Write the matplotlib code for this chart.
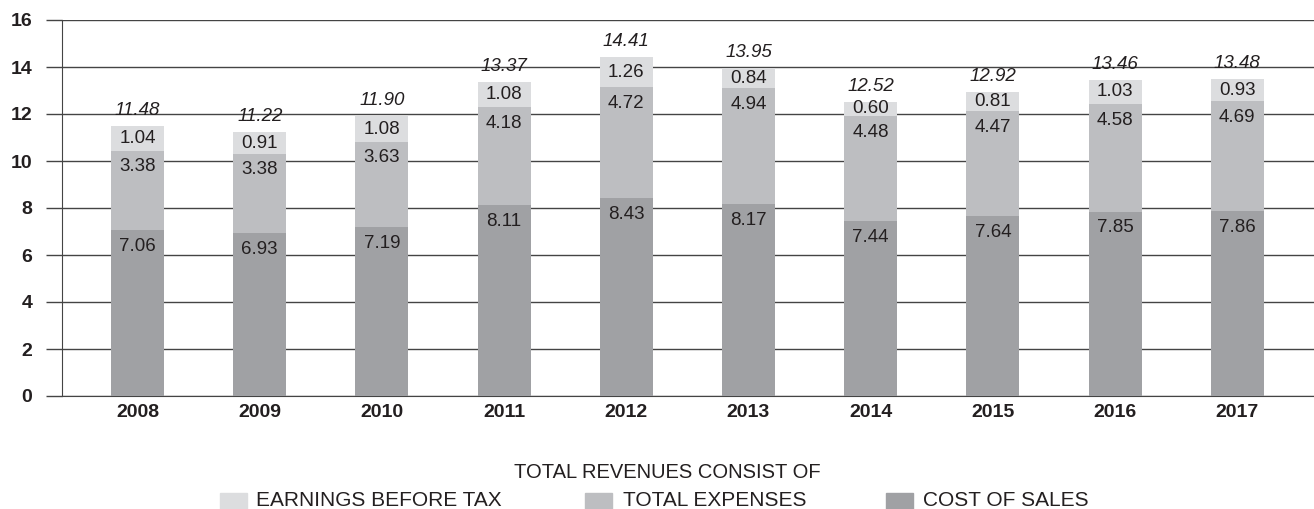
import matplotlib
matplotlib.use("Agg")
import matplotlib.pyplot as plt
from matplotlib.patches import Rectangle

plt.rcParams['font.family'] = ['Liberation Sans', 'DejaVu Sans']

years = ['2008', '2009', '2010', '2011', '2012', '2013', '2014', '2015', '2016', '2017']
cost_of_sales = [7.06, 6.93, 7.19, 8.11, 8.43, 8.17, 7.44, 7.64, 7.85, 7.86]
total_expenses = [3.38, 3.38, 3.63, 4.18, 4.72, 4.94, 4.48, 4.47, 4.58, 4.69]
earnings = [1.04, 0.91, 1.08, 1.08, 1.26, 0.84, 0.60, 0.81, 1.03, 0.93]
totals = [11.48, 11.22, 11.90, 13.37, 14.41, 13.95, 12.52, 12.92, 13.46, 13.48]
series_names = ['EARNINGS BEFORE TAX', 'TOTAL EXPENSES', 'COST OF SALES']
legend_title = 'TOTAL REVENUES CONSIST OF'

c_cost = '#a0a1a4'
c_exp = '#bdbec1'
c_earn = '#dcdddf'
txt = '#231f20'
grid_c = '#444444'

W, H = 1314, 509
fig = plt.figure(figsize=(W / 100, H / 100), dpi=100)
ax = fig.add_axes([62 / W, 1 - 396 / H, 1 - 62 / W, (396 - 20) / H])

x = list(range(len(years)))
w = 0.434
ax.bar(x, cost_of_sales, width=w, color=c_cost, zorder=3)
ax.bar(x, total_expenses, width=w, bottom=cost_of_sales, color=c_exp, zorder=3)
bottom3 = [a + b for a, b in zip(cost_of_sales, total_expenses)]
ax.bar(x, earnings, width=w, bottom=bottom3, color=c_earn, zorder=3)

for i in x:
    ax.text(i, cost_of_sales[i] - 0.33, f'{cost_of_sales[i]:.2f}', ha='center', va='top',
            fontsize=13.5, color=txt, zorder=4)
    ax.text(i, bottom3[i] - 0.33, f'{total_expenses[i]:.2f}', ha='center', va='top',
            fontsize=13.5, color=txt, zorder=4)
    ax.text(i, bottom3[i] + earnings[i] / 2, f'{earnings[i]:.2f}', ha='center', va='center',
            fontsize=13.5, color=txt, zorder=4)
    ax.text(i, totals[i] + 0.3, f'{totals[i]:.2f}', ha='center', va='bottom',
            fontsize=13.5, color=txt, style='italic', zorder=4)

ax.set_xlim(-0.618, 9.628)
ax.set_ylim(0, 16)
ax.set_yticks(range(0, 17, 2))
ax.set_xticks(x)
ax.set_xticklabels(years)
ax.yaxis.grid(True, color=grid_c, linewidth=1.0, zorder=0)
ax.set_axisbelow(True)
for s in ['top', 'right']:
    ax.spines[s].set_visible(False)
ax.spines['left'].set_color(grid_c)
ax.spines['bottom'].set_color(grid_c)
ax.tick_params(axis='y', length=11.5, width=1.0, color=grid_c, pad=10, labelsize=14)
ax.tick_params(axis='x', length=0, pad=6, labelsize=14)
for lab in ax.get_xticklabels() + ax.get_yticklabels():
    lab.set_fontweight('bold')
    lab.set_color(txt)

# legend (title + manual entries)
fig.text(667.5 / W, 1 - 472 / H, legend_title, ha='center', va='center',
         fontsize=14.5, color=txt)
patch_x = [220, 585, 886]
text_x = [256, 623, 923]
colors = [c_earn, c_exp, c_cost]
for px, tx, col, name in zip(patch_x, text_x, colors, series_names):
    fig.patches.append(Rectangle((px / W, 1 - 510 / H), 27 / W, 17 / H,
                                 transform=fig.transFigure, color=col, figure=fig))
    fig.text(tx / W, 1 - 501 / H, name, ha='left', va='center', fontsize=15, color=txt)

fig.savefig('out.png', dpi=100)
